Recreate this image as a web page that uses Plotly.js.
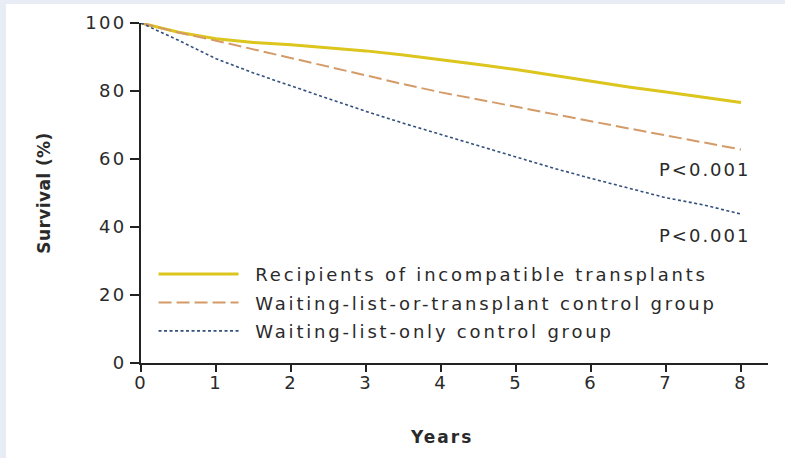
<!DOCTYPE html>
<html>
<head>
<meta charset="utf-8">
<script src="https://cdn.plot.ly/plotly-3.0.1.min.js"></script>
<style>
  html, body { margin: 0; padding: 0; background: #e8ecf4; width: 785px; height: 458px; overflow: hidden; }
  #chart { position: absolute; left: 6px; top: 4px; width: 779px; height: 454px; background: #ffffff; }
  /* wide, airy lettering (unscoped so text measurement sees it too) */
  .legendtext { letter-spacing: 2.8px; }
  .annotation-text { letter-spacing: 2px; }
  g.xtick > text, g.ytick > text { letter-spacing: 2.3px; }
  .ytitle { letter-spacing: 0.4px; }
</style>
</head>
<body>
<div id="chart"></div>
<script>
// Follow-up time in years
const years = [0, 0.25, 0.5, 1, 1.5, 2, 2.5, 3, 3.5, 4, 4.5, 5, 5.5, 6, 6.5, 7, 7.5, 8];

// Survival (%) per group
const incompatibleRecipients = [100, 98.6, 97.3, 95.4, 94.3, 93.6, 92.8, 91.8, 90.6, 89.3, 87.8, 86.3, 84.6, 82.8, 81.2, 79.7, 78.2, 76.6];
const waitingOrTransplant    = [100, 98.6, 97.2, 94.8, 92.3, 89.8, 87.3, 84.6, 82.0, 79.6, 77.5, 75.3, 73.2, 71.1, 69.0, 67.0, 65.0, 62.8];
const waitingOnly            = [100, 97.5, 94.9, 89.5, 85.3, 81.5, 77.7, 74.0, 70.5, 67.2, 63.8, 60.5, 57.3, 54.3, 51.4, 48.6, 46.5, 43.8];

// en space keeps a gap between each legend line sample and its label
const seriesNames = [
  '\u2002Recipients of incompatible transplants',
  '\u2002Waiting-list-or-transplant control group',
  '\u2002Waiting-list-only control group'
];

const xTicks = [0, 1, 2, 3, 4, 5, 6, 7, 8];
const yTicks = [0, 20, 40, 60, 80, 100];

// P-value labels placed beside the two control curves
const pLabels = ['P<0.001', 'P<0.001'];
const pLabelX = [8.15, 8.15];
const pLabelY = [56.8, 37.6];

const font = 'DejaVu Sans, sans-serif';
const ink = '#2a2a2a';

const traces = [
  { x: years, y: incompatibleRecipients, name: seriesNames[0], legendgroup: 'a',
    line: { color: '#dcc51c', width: 3, dash: 'solid' } },
  { x: years, y: waitingOrTransplant, name: seriesNames[1], legendgroup: 'b',
    line: { color: '#d49b68', width: 2, dash: '13px,5px' } },
  { x: years, y: waitingOnly, name: seriesNames[2], legendgroup: 'c',
    line: { color: '#32507c', width: 1.6, dash: '3px,2.5px' } }
].map(t => Object.assign({ type: 'scatter', mode: 'lines', cliponaxis: false, hoverinfo: 'skip' }, t));

const layout = {
  width: 779, height: 454,
  margin: { l: 135, r: 17, t: 19, b: 95 },
  paper_bgcolor: '#ffffff', plot_bgcolor: '#ffffff',
  font: { family: font, color: ink, size: 15 },
  showlegend: true,
  legend: {
    x: 0.02, y: 0.315, xanchor: 'left', yanchor: 'top',
    bgcolor: 'rgba(0,0,0,0)', font: { family: font, size: 18, color: ink },
    itemwidth: 80, traceorder: 'grouped', tracegroupgap: 2, itemclick: false
  },
  xaxis: {
    range: [0, 8.36], tickvals: xTicks, ticktext: xTicks.map(String),
    showgrid: false, zeroline: false, showline: true, linecolor: '#222', linewidth: 2,
    ticks: 'outside', ticklen: 7, tickwidth: 2, tickcolor: '#222',
    ticklabelstandoff: -5,
    tickfont: { family: font, size: 18, color: ink }
  },
  yaxis: {
    range: [0, 100], tickvals: yTicks, ticktext: yTicks.map(String),
    showgrid: false, zeroline: false, showline: true, linecolor: '#222', linewidth: 2,
    ticks: 'outside', ticklen: 9, tickwidth: 2, tickcolor: '#222',
    tickfont: { family: font, size: 18, color: ink },
    title: { text: '<b>Survival (%)</b>', font: { family: font, size: 17, color: ink }, standoff: 30 }
  },
  annotations: pLabels.map((txt, i) => ({
    x: pLabelX[i], y: pLabelY[i], xref: 'x', yref: 'y', text: txt, showarrow: false,
    xanchor: 'right', yanchor: 'middle', font: { family: font, size: 18, color: ink }
  })).concat([{
    // x-axis title, centred under the middle tick
    x: 4, y: 0, xref: 'x', yref: 'paper', yshift: -74, text: '<b>Years</b>', showarrow: false,
    xanchor: 'center', yanchor: 'middle', font: { family: font, size: 17, color: ink }
  }])
};

Plotly.newPlot('chart', traces, layout, { displayModeBar: false, staticPlot: true });
</script>
</body>
</html>
